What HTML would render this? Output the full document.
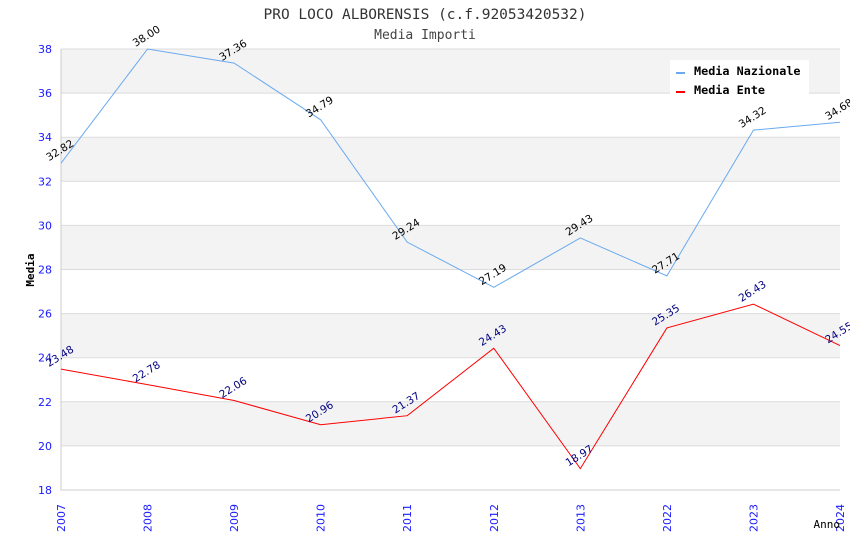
<!DOCTYPE html>
<html><head><meta charset="utf-8"><style>
body{margin:0;background:#fff;}
svg{display:block;}
</style></head><body>
<svg id="chart" width="850" height="550" xmlns="http://www.w3.org/2000/svg">
<text x="425" y="19" text-anchor="middle" font-family="DejaVu Sans Mono, Liberation Mono, monospace" font-size="14.5" fill="#333">PRO LOCO ALBORENSIS (c.f.92053420532)</text>
<text x="425" y="39" text-anchor="middle" font-family="DejaVu Sans Mono, Liberation Mono, monospace" font-size="13" fill="#444">Media Importi</text>
<g id="bands"></g><g id="grid"></g><g id="axes"></g><g id="series"></g>
<text transform="translate(34,270) rotate(-90)" text-anchor="middle" font-family="DejaVu Sans Mono, monospace" font-size="11" font-weight="bold" fill="#000">Media</text>
<text x="840" y="528" text-anchor="end" font-family="DejaVu Sans Mono, monospace" font-size="11" fill="#000">Anno</text>
<g>
<rect x="670" y="60" width="139" height="36" fill="#fff"/>
<rect x="676" y="72" width="9" height="2" fill="#6aaaf0"/>
<text x="694" y="75" font-family="DejaVu Sans Mono, monospace" font-size="11.8" font-weight="bold" fill="#000">Media Nazionale</text>
<rect x="676" y="91" width="9" height="2" fill="#f00"/>
<text x="694" y="94" font-family="DejaVu Sans Mono, monospace" font-size="11.8" font-weight="bold" fill="#000">Media Ente</text>
</g>
</svg>
<script>
const categories=["2007","2008","2009","2010","2011","2012","2013","2022","2023","2024"];
const nazionale=[32.82,38.00,37.36,34.79,29.24,27.19,29.43,27.71,34.32,34.68];
const ente=[23.48,22.78,22.06,20.96,21.37,24.43,18.97,25.35,26.43,24.55];
const yTicks=[18,20,22,24,26,28,30,32,34,36,38];
const NS="http://www.w3.org/2000/svg";
const L=61,R=840,T=49,B=490,ymin=18,ymax=38;
const xs=i=>L+(R-L)*i/(categories.length-1);
const ys=v=>B-(v-ymin)/(ymax-ymin)*(B-T);
function mk(tag,attrs,parent){const e=document.createElementNS(NS,tag);for(const k in attrs)e.setAttribute(k,attrs[k]);document.getElementById(parent).appendChild(e);return e;}
for(let i=0;i<yTicks.length-1;i++){
  if(yTicks[i]%4===0){const r=mk('rect',{x:L,y:ys(yTicks[i+1]),width:R-L,height:ys(yTicks[i])-ys(yTicks[i+1]),fill:'#f3f3f3'},'bands');
  
  }
}
yTicks.forEach(v=>{
  const l=mk('line',{x1:L,x2:R,y1:ys(v),y2:ys(v),stroke:'#dcdcdc','stroke-width':1},'grid');
  
  
  const t=mk('text',{x:L-9,y:ys(v)+4,'text-anchor':'end','font-family':'DejaVu Sans, sans-serif','font-size':11,fill:'#1a1aff'},'axes');
  t.textContent=v;
  
  
});
const ax=mk('path',{d:`M${L},${T}V${B}H${R}`,fill:'none',stroke:'#ccc'},'axes');


categories.forEach((c,i)=>{
  const t=mk('text',{transform:`translate(${xs(i)+4},${B+42}) rotate(-90)`,'font-family':'DejaVu Sans, sans-serif','font-size':11,fill:'#1a1aff'},'axes');
  t.textContent=c;
  
  
});
function series(vals,color,lab,name){
  const p=mk('polyline',{points:vals.map((v,i)=>xs(i)+','+ys(v)).join(' '),fill:'none',stroke:color,'stroke-width':1},'series');
  
  
  vals.forEach((v,i)=>{
    const t=mk('text',{transform:`translate(${xs(i)-12},${ys(v)-2}) rotate(-32)`,'font-family':'DejaVu Sans, sans-serif','font-size':10.5,fill:lab},'series');
    t.textContent=v.toFixed(2);
    
    
  });
}
series(nazionale,'#6aaaf0','#000','nazionale');
series(ente,'#f00','#000080','ente');
</script>
</body></html>
